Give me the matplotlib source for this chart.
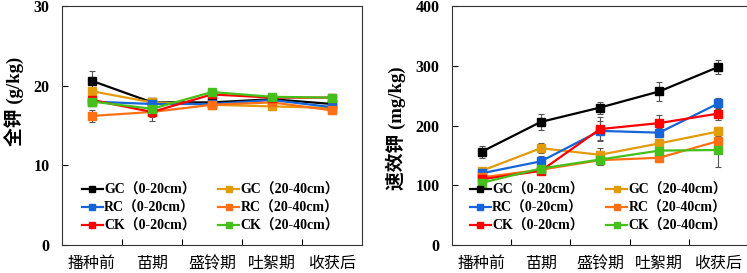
import numpy as np
import matplotlib
matplotlib.use('Agg')
import matplotlib.pyplot as plt

# 字体：西文 Times 风格 + 中文
FAMILY = ['Liberation Serif', 'Noto Sans CJK SC']
plt.rcParams['font.family'] = FAMILY
plt.rcParams['axes.unicode_minus'] = False

# ============================================================
# 数据
# ============================================================
stages = ['播种前', '苗期', '盛铃期', '吐絮期', '收获后']
series = ['GC（0-20cm）', 'GC（20-40cm）', 'RC（0-20cm）',
          'RC（20-40cm）', 'CK（0-20cm）', 'CK（20-40cm）']
colors = ['#000000', '#E39A0B', '#1565D8', '#FF6F14', '#FF0000', '#45C01A']

# 全钾 (g/kg)
tk_gc1 = [20.6, 17.9, 17.9, 18.3, 17.7]
tk_gc2 = [19.3, 17.9, 17.6, 17.4, 17.2]
tk_rc1 = [18.0, 17.7, 17.7, 18.2, 17.3]
tk_rc2 = [16.2, 16.7, 17.6, 17.9, 16.9]
tk_ck1 = [18.2, 16.7, 18.9, 18.5, 18.5]
tk_ck2 = [18.0, 17.1, 19.2, 18.6, 18.5]
tk_err_gc1 = [1.2, 0.3, 0.4, 0.3, 0.3]
tk_err_gc2 = [0.4, 0.3, 0.3, 0.4, 0.3]
tk_err_rc1 = [0.3, 0.3, 0.3, 0.3, 0.3]
tk_err_rc2 = [0.7, 1.1, 0.4, 0.3, 0.4]
tk_err_ck1 = [0.4, 0.6, 0.4, 0.3, 0.3]
tk_err_ck2 = [0.3, 0.4, 0.3, 0.3, 0.3]

# 速效钾 (mg/kg)
ak_gc1 = [156, 206, 230, 257, 298]
ak_gc2 = [124, 162, 151, 170, 190]
ak_rc1 = [120, 140, 191, 188, 237]
ak_rc2 = [113, 126, 142, 146, 174]
ak_ck1 = [110, 124, 194, 204, 220]
ak_ck2 = [104, 128, 143, 158, 159]
ak_err_gc1 = [10, 13, 10, 16, 11]
ak_err_gc2 = [5, 8, 11, 6, 7]
ak_err_rc1 = [6, 9, 16, 8, 9]
ak_err_rc2 = [4, 5, 8, 7, 6]
ak_err_ck1 = [5, 6, 20, 14, 10]
ak_err_ck2 = [4, 5, 9, 6, 28]

# ============================================================
# 画图
# ============================================================
W, H = 747, 273
fig = plt.figure(figsize=(W / 100, H / 100), dpi=100)

def px_axes(l, r, t, b):
    return [l / W, 1 - b / H, (r - l) / W, (b - t) / H]

ax1 = fig.add_axes(px_axes(62, 362, 6, 245))
ax2 = fig.add_axes(px_axes(452, 748, 6, 245))

x = np.arange(len(stages))

def draw(ax, vals, errs, ymax, ystep, ylabel):
    handles = []
    for v, e, c, lab in zip(vals, errs, colors, series):
        ax.errorbar(x, v, yerr=e, fmt='none', ecolor='#555555',
                    elinewidth=0.8, capsize=2, capthick=0.8, zorder=2)
        h, = ax.plot(x, v, color=c, lw=1.6, marker='s', ms=5.5, label=lab,
                     zorder=3)
        handles.append(h)
    ax.set_xlim(-0.5, 4.5)
    ax.set_ylim(0, ymax)
    ax.set_yticks(np.arange(0, ymax + 1, ystep))
    ax.set_xticks(np.arange(0.5, 4.5, 1.0))
    ax.set_xticklabels([])
    ax.set_xticks(x, minor=True)
    ax.set_xticklabels(stages, minor=True, fontsize=11.5)
    ax.tick_params(axis='x', which='minor', length=0, pad=8)
    ax.tick_params(axis='x', which='major', direction='in', length=4, width=0.8)
    ax.tick_params(axis='y', direction='in', length=4, width=0.8, pad=9,
                   labelsize=11.5)
    for lab in ax.get_yticklabels():
        lab.set_fontweight('bold')
    for sp in ax.spines.values():
        sp.set_linewidth(0.8)
        sp.set_color('#333333')
    ax.set_ylabel(ylabel, fontsize=13.5, fontweight='bold')
    # 图例按行排列：GC / RC / CK
    order = [0, 2, 4, 1, 3, 5]
    ax.legend(handles=[handles[i] for i in order], loc='center',
              bbox_to_anchor=(0.495, 0.155), ncol=2, frameon=False,
              handlelength=1.5, handletextpad=0.1, columnspacing=1.6,
              labelspacing=0.35, markerscale=0.75,
              prop={'family': FAMILY, 'weight': 'bold', 'size': 10})

draw(ax1, [tk_gc1, tk_gc2, tk_rc1, tk_rc2, tk_ck1, tk_ck2],
     [tk_err_gc1, tk_err_gc2, tk_err_rc1, tk_err_rc2, tk_err_ck1, tk_err_ck2],
     30, 10, '全钾 (g/kg)')
draw(ax2, [ak_gc1, ak_gc2, ak_rc1, ak_rc2, ak_ck1, ak_ck2],
     [ak_err_gc1, ak_err_gc2, ak_err_rc1, ak_err_rc2, ak_err_ck1, ak_err_ck2],
     400, 100, '速效钾 (mg/kg)')
ax1.yaxis.set_label_coords(-0.125, 0.6)
ax2.yaxis.set_label_coords(-0.155, 0.49)

fig.savefig('out.png', dpi=100, facecolor='white')
